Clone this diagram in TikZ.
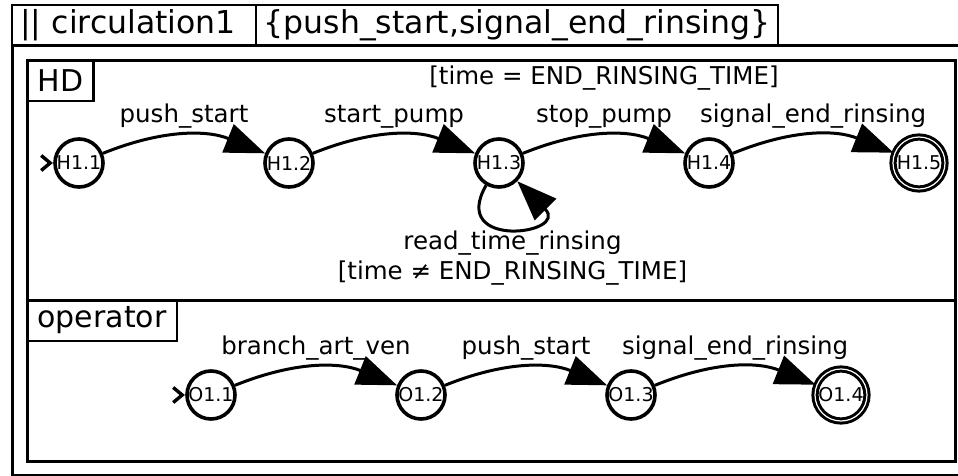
\documentclass[tikz,border=0pt]{standalone}
\usepackage{fontspec}
\setmainfont{DejaVu Sans}
\usepackage{tikz}
\usetikzlibrary{arrows.meta,positioning,calc}
\tikzset{
  cell/.style   = {draw, line width=2.8pt, minimum height=40pt, inner sep=0pt,
                   outer sep=0pt, font=\fontsize{31.5}{34}\selectfont},
  tag/.style    = {draw, line width=2.6pt, minimum height=40pt, inner xsep=10.5pt,
                   inner ysep=0pt, outer sep=0pt, font=\fontsize{30}{34}\selectfont},
  frame/.style  = {line width=3pt},
  state/.style  = {circle, draw, line width=3.6pt, minimum size=48pt, inner sep=0pt,
                   font=\fontsize{19}{21}\selectfont},
  accept/.style = {state, double, double distance=1.2pt, line width=3pt, minimum size=52pt},
  tr/.style     = {-{Triangle[length=40pt, width=30pt]}, line width=3pt},
  lbl/.style    = {font=\fontsize{24.5}{30}\selectfont, inner sep=2pt},
  init/.style   = {line width=3.4pt},
}

\begin{document}
\begin{tikzpicture}[x=1pt, y=1pt, node distance=210pt, on grid]
  \useasboundingbox (0,0) rectangle (958,-476);
  % frames and headers
  \draw[frame] (12,-46) rectangle (975,-475);
  \draw[frame] (27,-61) rectangle (955,-300);
  \draw[frame] (27,-300) rectangle (955,-461);
  \node[cell, anchor=north west, text width=228pt, inner xsep=8pt, align=left] (ttl)
     at (12,-5) {|| circulation1};
  \node[cell, anchor=north west, minimum width=522pt] (evts)
     at (ttl.north east) {\{push\_start,signal\_end\_rinsing\}};
  \node[tag, anchor=north west] (hd) at (27,-61) {HD};
  \node[tag, anchor=north west, minimum height=41pt] (op) at (27,-300) {operator};

  % HD automaton
  \node[state] (H11) at (79,-163) {H1.1};
  \node[state, right=of H11] (H12) {H1.2};
  \node[state, right=of H12] (H13) {H1.3};
  \node[state, right=of H13] (H14) {H1.4};
  \node[accept, right=of H14] (H15) {H1.5};
  \draw[init] ($(H11.west)+(-12,7.5)$) -- ($(H11.west)+(-3,0)$) -- ($(H11.west)+(-12,-7.5)$);
  \draw[tr] (H11) to[bend left=22] node[lbl, above=4pt] (pst) {push\_start} (H12);
  \draw[tr] (H12) to[bend left=22] node[lbl, above=4pt] (spu) {start\_pump} (H13);
  \draw[tr] (H13) to[bend left=22] node[lbl, above=4pt] (stp) {stop\_pump} (H14);
  \draw[tr] (H14) to[bend left=22] node[lbl, above=4pt] (ser) {signal\_end\_rinsing} (H15);
  \node[lbl, above=38pt of stp] (grd) {[time = END\_RINSING\_TIME]};
  \draw[tr] (H13) to[out=240, in=315, min distance=75pt]
     node[lbl, below, align=center, xshift=5pt] (rtr)
     {read\_time\_rinsing\\{[time ≠ END\_RINSING\_TIME]}} (H13);

  % operator automaton
  \node[state] (O11) at (211,-395) {O1.1};
  \node[state, right=of O11] (O12) {O1.2};
  \node[state, right=of O12] (O13) {O1.3};
  \node[accept, right=of O13] (O14) {O1.4};
  \draw[init] ($(O11.west)+(-12,7.5)$) -- ($(O11.west)+(-3,0)$) -- ($(O11.west)+(-12,-7.5)$);
  \draw[tr] (O11) to[bend left=22] node[lbl, above=4pt] (bav) {branch\_art\_ven} (O12);
  \draw[tr] (O12) to[bend left=22] node[lbl, above=4pt] (ops) {push\_start} (O13);
  \draw[tr] (O13) to[bend left=22] node[lbl, above=4pt] (oer) {signal\_end\_rinsing} (O14);
\end{tikzpicture}
\end{document}
